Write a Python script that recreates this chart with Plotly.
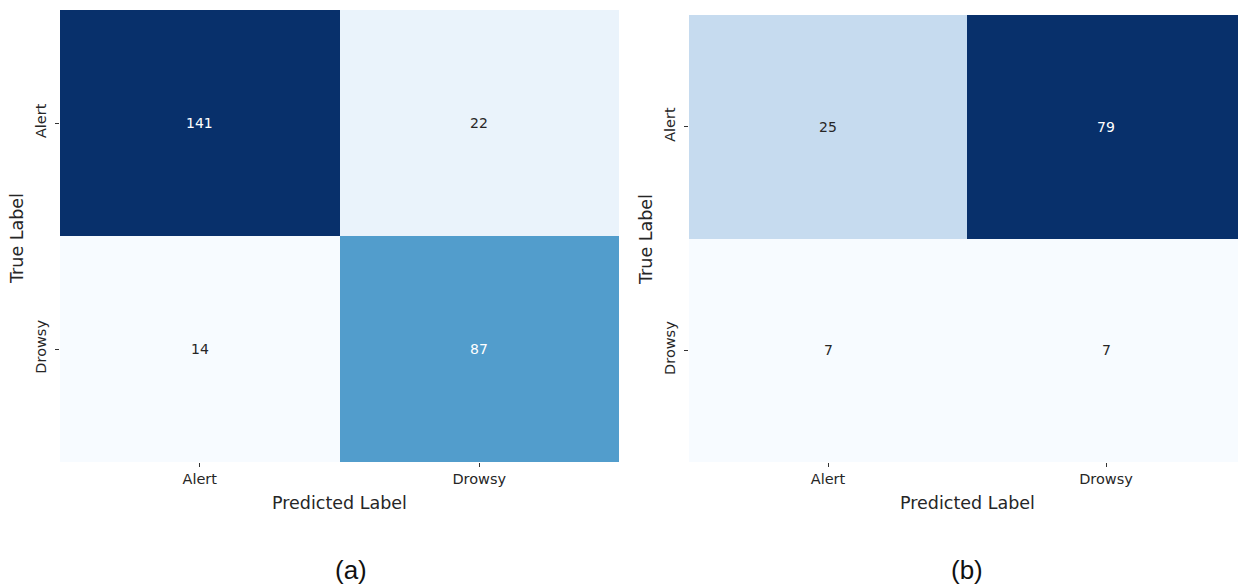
import plotly.graph_objects as go

categories = ["Alert", "Drowsy"]
cm_a = [[141, 22], [14, 87]]
cm_b = [[25, 79], [7, 7]]
x_title = "Predicted Label"
y_title = "True Label"
captions = ["(a)", "(b)"]

blues = ["#f7fbff", "#deebf7", "#c6dbef", "#9ecae1", "#6baed6",
         "#4292c6", "#2171b5", "#08519c", "#08306b"]
colorscale = [[i / 8, c] for i, c in enumerate(blues)]

W, H = 1238, 586
FONT = "DejaVu Sans"
TICK_SIZE = 14.5
CELL_SIZE = 14
TITLE_SIZE = 17.5

fig = go.Figure()

panels = [
    dict(cm=cm_a, xa="x", ya="y", xd=[60 / W, 619 / W], yd=[(H - 462) / H, (H - 10) / H],
         xr=[-0.5, 1.5]),
    dict(cm=cm_b, xa="x2", ya="y2", xd=[689 / W, 1.0], yd=[(H - 462) / H, (H - 15) / H],
         xr=[-0.5, 1.5 - 7 / 278]),
]

annotations = []
for i, p in enumerate(panels):
    cm = p["cm"]
    flat = [v for row in cm for v in row]
    zmin, zmax = min(flat), max(flat)
    fig.add_trace(go.Heatmap(
        z=cm, x=[0, 1], y=[0, 1], xaxis=p["xa"], yaxis=p["ya"],
        colorscale=colorscale, zmin=zmin, zmax=zmax, showscale=False,
        xgap=0, ygap=0, hoverinfo="skip",
    ))
    for r in range(2):
        for c in range(2):
            v = cm[r][c]
            frac = (v - zmin) / (zmax - zmin)
            annotations.append(dict(
                x=c, y=r, xref=p["xa"], yref=p["ya"], text=str(v), showarrow=False,
                font=dict(family=FONT, size=CELL_SIZE,
                          color="white" if frac > 0.5 else "#262626"),
            ))
    suffix = "" if i == 0 else "2"
    fig.update_layout(**{
        "xaxis" + suffix: dict(
            domain=p["xd"], range=p["xr"], tickmode="array", tickvals=[0, 1],
            ticktext=categories, ticks="outside", ticklen=4, tickcolor="#333",
            tickfont=dict(family=FONT, size=TICK_SIZE, color="#262626"),
            showgrid=False, zeroline=False, showline=False, anchor="y" + suffix,
            fixedrange=True,
        ),
        "yaxis" + suffix: dict(
            domain=p["yd"], range=[1.5, -0.5], tickmode="array", tickvals=[0, 1],
            ticktext=categories, ticks="outside", ticklen=4, tickcolor="#333",
            tickangle=-90, ticklabelstandoff=3,
            tickfont=dict(family=FONT, size=TICK_SIZE, color="#262626"),
            showgrid=False, zeroline=False, showline=False, anchor="x" + suffix,
            fixedrange=True,
        ),
    })

# axis titles and captions
for k, (xc, cap_x) in enumerate([(340, 351), (967, 967)]):
    annotations.append(dict(x=xc / W, y=(H - 503) / H, xref="paper", yref="paper",
                            text=x_title, showarrow=False, xanchor="center", yanchor="middle",
                            font=dict(family=FONT, size=TITLE_SIZE, color="#262626")))
    annotations.append(dict(x=cap_x / W, y=(H - 570) / H, xref="paper", yref="paper",
                            text=captions[k], showarrow=False,
                            xanchor="center", yanchor="middle",
                            font=dict(family="Liberation Sans", size=26, color="#111")))
for xt, yt in [(17, 239), (646, 240)]:
    annotations.append(dict(x=xt / W, y=(H - yt) / H, xref="paper", yref="paper",
                            text=y_title, showarrow=False, textangle=-90,
                            xanchor="center", yanchor="middle",
                            font=dict(family=FONT, size=TITLE_SIZE, color="#262626")))

fig.update_layout(
    width=W, height=H, margin=dict(l=0, r=0, t=0, b=0),
    paper_bgcolor="white", plot_bgcolor="white",
    annotations=annotations, showlegend=False,
)

fig.write_html("out.html", config={"displayModeBar": False})
